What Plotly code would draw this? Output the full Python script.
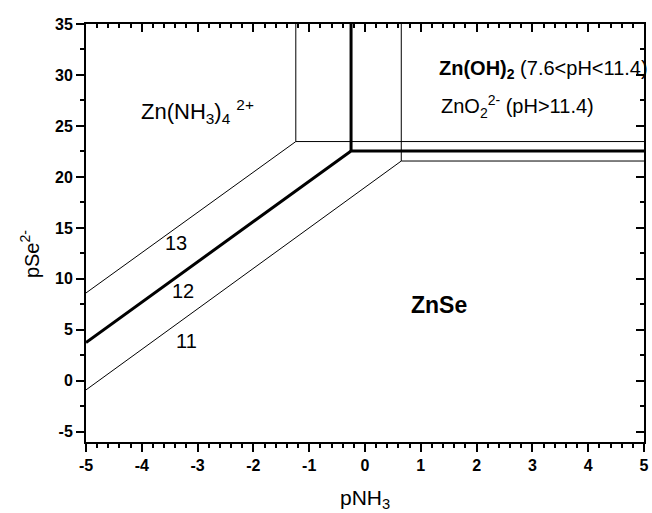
import plotly.graph_objects as go

# Boundary lines of the ZnSe predominance diagram (pSe2- vs pNH3) at three pH values
ph_labels = ["13", "12", "11"]
ph13_x = [-5, -1.24, 5]
ph13_y = [8.62, 23.47, 23.47]
ph12_x = [-5, -0.25, 5]
ph12_y = [3.76, 22.54, 22.54]
ph11_x = [-5, 0.65, 5]
ph11_y = [-0.89, 21.56, 21.56]
# vertical boundaries rising from each kink to the top of the diagram
vert_x = [-1.24, -0.25, 0.65]
vert_y0 = [23.47, 22.54, 21.56]
y_top = 35
label_pos = [(-3.385, 13.52), (-3.266, 8.81), (-3.199, 3.91)]

x_ticks = [-5, -4, -3, -2, -1, 0, 1, 2, 3, 4, 5]
y_ticks = [-5, 0, 5, 10, 15, 20, 25, 30, 35]

FONT = "Liberation Sans, Arial, sans-serif"

fig = go.Figure()

line_sets = [
    (ph13_x, ph13_y, vert_x[0], vert_y0[0], 1),
    (ph12_x, ph12_y, vert_x[1], vert_y0[1], 3),
    (ph11_x, ph11_y, vert_x[2], vert_y0[2], 1),
]
for xs, ys, vx, vy, w in line_sets:
    fig.add_trace(go.Scatter(x=xs, y=ys, mode="lines",
                             line=dict(color="black", width=w),
                             showlegend=False, hoverinfo="skip"))
    fig.add_trace(go.Scatter(x=[vx, vx], y=[vy, y_top], mode="lines",
                             line=dict(color="black", width=w),
                             showlegend=False, hoverinfo="skip"))

for lab, (lx, ly) in zip(ph_labels, label_pos):
    fig.add_annotation(x=lx, y=ly, text=lab, showarrow=False,
                       font=dict(family=FONT, size=20, color="black"))

fig.add_annotation(x=-4.05, y=26.4, xanchor="left", yanchor="middle",
                   text="Zn(NH<sub>3</sub>)<sub>4</sub> <sup>2+</sup>", showarrow=False,
                   font=dict(family=FONT, size=22, color="black"))
fig.add_annotation(x=1.29, y=30.5, xanchor="left", yanchor="middle",
                   text="<b>Zn(OH)<sub>2</sub></b> (7.6&lt;pH&lt;11.4)", showarrow=False,
                   font=dict(family=FONT, size=20, color="black"))
fig.add_annotation(x=1.33, y=26.9, xanchor="left", yanchor="middle",
                   text="ZnO<sub>2</sub><sup>2-</sup> (pH&gt;11.4)", showarrow=False,
                   font=dict(family=FONT, size=20, color="black"))
fig.add_annotation(x=1.318, y=7.44, text="<b>ZnSe</b>", showarrow=False,
                   font=dict(family=FONT, size=23, color="black"))

# axis titles
fig.add_annotation(xref="paper", yref="paper", x=0.5, y=-0.1, xanchor="center", yanchor="top",
                   text="pNH<sub>3</sub>", showarrow=False,
                   font=dict(family=FONT, size=21, color="black"))
fig.add_annotation(xref="paper", yref="paper", x=-0.1, y=0.45, xanchor="center",
                   yanchor="middle", textangle=-90,
                   text="pSe<sup>2-</sup>", showarrow=False,
                   font=dict(family=FONT, size=20, color="black"))

tickfont = dict(family=FONT, size=16, color="black")
frame = dict(showgrid=False, zeroline=False, showline=True, linecolor="black",
             linewidth=2, tickcolor="black", tickwidth=1.5, ticklen=8)

fig.update_xaxes(range=[-5, 5], tickmode="array", tickvals=x_ticks,
                 ticktext=[f"<b>{v}</b>" for v in x_ticks],
                 ticks="outside", tickfont=tickfont, ticklabeloverflow="allow",
                 minor=dict(dtick=0.2, tick0=-5, ticks="outside", ticklen=4,
                            tickcolor="black", tickwidth=1.5),
                 **frame)
fig.update_yaxes(range=[-6, 35], tickmode="array", tickvals=y_ticks,
                 ticktext=[f"<b>{v}</b>" for v in y_ticks],
                 ticks="outside", tickfont=tickfont, ticklabeloverflow="allow",
                 minor=dict(dtick=2.5, tick0=0, ticks="outside", ticklen=4,
                            tickcolor="black", tickwidth=1.5),
                 **frame)

# mirrored top and right axes with inward ticks
fig.update_layout(
    width=652, height=513,
    margin=dict(l=86, r=3, t=24, b=71),
    paper_bgcolor="white", plot_bgcolor="white",
    xaxis2=dict(range=[-5, 5], overlaying="x", side="top",
                tickmode="array", tickvals=x_ticks,
                ticks="inside", showticklabels=False,
                minor=dict(dtick=0.2, tick0=-5, ticks="inside", ticklen=4,
                           tickcolor="black", tickwidth=1.5),
                **frame),
    yaxis2=dict(range=[-6, 35], overlaying="y", side="right",
                tickmode="array", tickvals=y_ticks,
                ticks="inside", showticklabels=False,
                minor=dict(dtick=2.5, tick0=0, ticks="inside", ticklen=4,
                           tickcolor="black", tickwidth=1.5),
                **frame),
)
fig.add_trace(go.Scatter(x=[0], y=[0], xaxis="x2", yaxis="y2", mode="markers",
                         marker=dict(opacity=0), showlegend=False, hoverinfo="skip"))

fig.write_html("out.html")
